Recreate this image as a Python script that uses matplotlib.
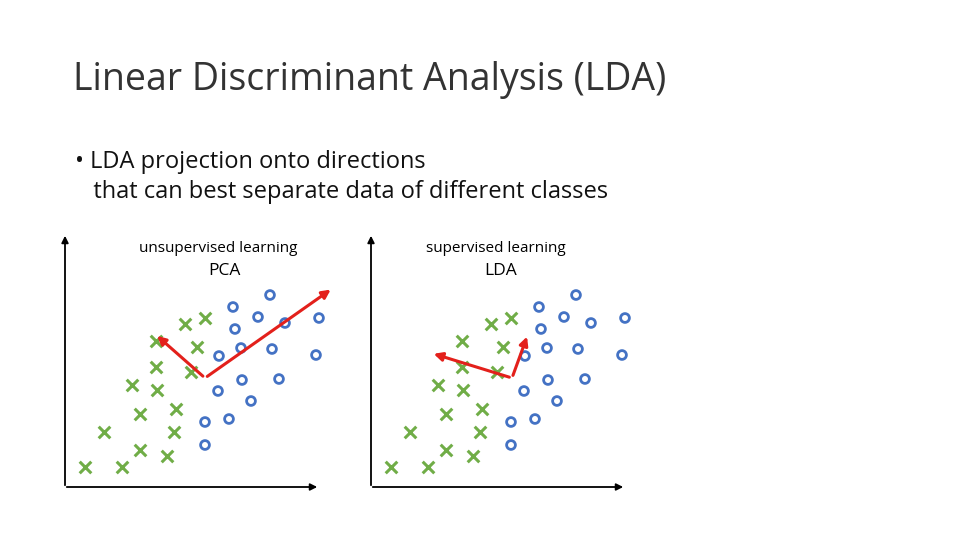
import matplotlib
matplotlib.use("Agg")
import matplotlib.pyplot as plt

title = "Linear Discriminant Analysis (LDA)"
bullet = ["• LDA projection onto directions", "   that can best separate data of different classes"]
panel_labels = [("unsupervised learning", "PCA"), ("supervised learning", "LDA")]
panel_offsets = [0, 306]
cross_x = [85,122,104,140,140,167,174,176,132,157,156,156,185,205,197,191]
cross_y = [467,467,432,414,450,456,432,409,385,390,367,341,324,318,347,372]
circ_x = [270,233,258,285,319,235,241,219,272,316,242,279,218,251,205,229,205]
circ_y = [295,307,317,323,318,329,348,356,349,355,380,379,391,401,422,419,445]
# red direction arrows: origin, tip1, tip2 per panel
arrows = [((205,378),(155,334),(333,288)), ((512,378),(431,353),(528,334))]

fig = plt.figure(figsize=(9.6,5.4), dpi=100)
ax = fig.add_axes([0,0,1,1])
ax.set_xlim(0,960); ax.set_ylim(540,0); ax.axis("off")
ff = "Open Sans"
ax.text(73, 80, title, fontsize=27, family=ff, color="#333333", va="center")
ax.text(75, 162, bullet[0], fontsize=17, family=ff, color="#111111", va="center")
ax.text(75, 192, bullet[1], fontsize=17, family=ff, color="#111111", va="center")
for (small, big), off in zip(panel_labels, panel_offsets):
    cx = 218 if off == 0 else 496
    ax.text(cx, 249, small, fontsize=11, family=ff, ha="center", va="center")
    ax.text(cx+6 if off == 0 else cx+5, 271, big, fontsize=12.5, family=ff, ha="center", va="center")
    x0 = 65 + off
    ax.annotate("", xy=(x0, 233), xytext=(x0, 488), arrowprops=dict(arrowstyle="-|>,head_width=0.2,head_length=0.4", color="black", lw=1.3))
    ax.annotate("", xy=(x0+255, 487), xytext=(x0-1, 487), arrowprops=dict(arrowstyle="-|>,head_width=0.2,head_length=0.4", color="black", lw=1.3))
    ax.scatter([x+off for x in cross_x], cross_y, marker="x", s=70, color="#70AD47", linewidths=2.2, zorder=3)
    ax.scatter([x+off for x in circ_x], circ_y, marker="o", s=40, facecolors="none", edgecolors="#4472C4", linewidths=2.0, zorder=3)
for o, t1, t2 in arrows:
    for t in (t1, t2):
        ax.annotate("", xy=t, xytext=o, arrowprops=dict(arrowstyle="-|>,head_width=0.25,head_length=0.5", color="#E3201B", lw=2.2), zorder=4)
fig.savefig("out.png", dpi=100)
